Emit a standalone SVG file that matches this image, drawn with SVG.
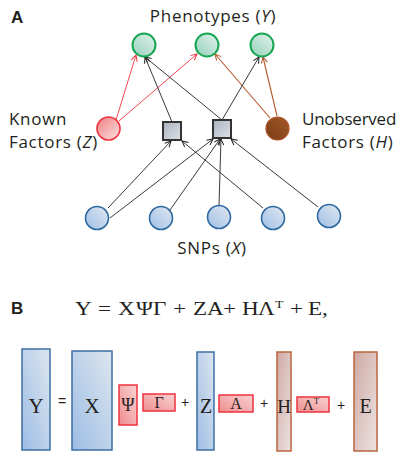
<svg xmlns="http://www.w3.org/2000/svg" width="400" height="456" viewBox="0 0 400 456">
<defs>
<linearGradient id="gGreen" x1="0" y1="1" x2="1" y2="0"><stop offset="0" stop-color="#95d1bb"/><stop offset="1" stop-color="#e2f2ec"/></linearGradient>
<linearGradient id="gRed" x1="0" y1="0" x2="1" y2="1"><stop offset="0" stop-color="#f07c80"/><stop offset="1" stop-color="#fde3e3"/></linearGradient>
<linearGradient id="gBrown" x1="0" y1="1" x2="1" y2="0"><stop offset="0" stop-color="#7a3c14"/><stop offset="1" stop-color="#a3582a"/></linearGradient>
<linearGradient id="gGray" x1="0" y1="0" x2="1" y2="1"><stop offset="0" stop-color="#aab2bd"/><stop offset="1" stop-color="#dde2e8"/></linearGradient>
<linearGradient id="gBlue" x1="0" y1="1" x2="1" y2="0"><stop offset="0" stop-color="#9fc0e6"/><stop offset="1" stop-color="#dfe7ef"/></linearGradient>
<linearGradient id="gRect" x1="0" y1="1" x2="1" y2="0"><stop offset="0" stop-color="#9dbde4"/><stop offset="1" stop-color="#dde6ef"/></linearGradient>
<linearGradient id="gPink" x1="0" y1="1" x2="1" y2="0"><stop offset="0" stop-color="#ee8d8f"/><stop offset="1" stop-color="#f9d2d2"/></linearGradient>
<linearGradient id="gTan" x1="0" y1="0" x2="1" y2="1"><stop offset="0" stop-color="#cfa9a2"/><stop offset="1" stop-color="#ece3e3"/></linearGradient>
<marker id="aK" markerWidth="8" markerHeight="8" refX="7" refY="4" orient="auto" markerUnits="userSpaceOnUse"><path d="M1,1 L7,4 L1,7" fill="none" stroke="#222" stroke-width="1"/></marker>
<marker id="aR" markerWidth="8" markerHeight="8" refX="7" refY="4" orient="auto" markerUnits="userSpaceOnUse"><path d="M1,1 L7,4 L1,7" fill="none" stroke="#ee3340" stroke-width="1"/></marker>
<marker id="aB" markerWidth="8" markerHeight="8" refX="7" refY="4" orient="auto" markerUnits="userSpaceOnUse"><path d="M1,1 L7,4 L1,7" fill="none" stroke="#b5562a" stroke-width="1"/></marker>
</defs>
<style>
.lbl{font-family:"Open Sans","Noto Sans","DejaVu Sans",sans-serif;font-size:17px;letter-spacing:0.7px;fill:#231f20}
.bold{font-family:"Liberation Sans",Arial,sans-serif;font-weight:bold;font-size:17px;fill:#231f20}
.math{font-family:"Liberation Serif","Times New Roman",serif;fill:#231f20}
.op{font-family:"Liberation Sans",Arial,sans-serif;font-size:14px;fill:#231f20}
.green{fill:url(#gGreen);stroke:#16a653;stroke-width:2}
.red{fill:url(#gRed);stroke:#ef3340;stroke-width:1.6}
.brown{fill:url(#gBrown);stroke:#b0562a;stroke-width:1.2}
.sq{fill:url(#gGray);stroke:#333;stroke-width:2}
.snp{fill:url(#gBlue);stroke:#2f68a0;stroke-width:1.6}
.ek{stroke:#222;stroke-width:0.9;fill:none;marker-end:url(#aK)}
.er{stroke:#ee3340;stroke-width:0.9;fill:none;marker-end:url(#aR)}
.eb{stroke:#b5562a;stroke-width:1.1;fill:none;marker-end:url(#aB)}
.mb{fill:url(#gRect);stroke:#3d6fa3;stroke-width:1.5}
.mr{fill:url(#gPink);stroke:#ee3340;stroke-width:1.5}
.mt{fill:url(#gTan);stroke:#b8653c;stroke-width:1.5}
</style>
<text class="bold" x="11" y="23">A</text>
<text class="lbl" x="213" y="22" text-anchor="middle">Phenotypes (<tspan font-style="italic">Y</tspan>)</text>
<text class="lbl" x="9" y="125">Known</text>
<text class="lbl" x="9" y="148">Factors (<tspan font-style="italic">Z</tspan>)</text>
<text class="lbl" x="302" y="125" textLength="95" lengthAdjust="spacing">Unobserved</text>
<text class="lbl" x="302" y="148">Factors (<tspan font-style="italic">H</tspan>)</text>
<text class="lbl" x="212" y="254" text-anchor="middle">SNPs (<tspan font-style="italic">X</tspan>)</text>
<g id="connectors">
<line class="er" x1="116" y1="120" x2="136" y2="55"/>
<line class="er" x1="119" y1="121" x2="197" y2="54"/>
<line class="eb" x1="270" y1="118" x2="215" y2="54"/>
<line class="eb" x1="277" y1="116" x2="263" y2="57"/>
<line class="ek" x1="172" y1="122" x2="145" y2="57"/>
<line class="ek" x1="222" y1="120" x2="145" y2="57"/>
<line class="ek" x1="222" y1="120" x2="259" y2="57"/>
<line class="ek" x1="108" y1="208" x2="171" y2="141"/>
<line class="ek" x1="110" y1="218" x2="213" y2="139"/>
<line class="ek" x1="170" y1="210" x2="220" y2="139"/>
<line class="ek" x1="219" y1="205" x2="221" y2="139"/>
<line class="ek" x1="263" y1="208" x2="182" y2="141"/>
<line class="ek" x1="318" y1="207" x2="231" y2="139"/>
</g>
<g id="y1"><circle class="green" cx="144" cy="45" r="11.5"/></g>
<g id="y2"><circle class="green" cx="207" cy="45" r="11.5"/></g>
<g id="y3"><circle class="green" cx="262" cy="45" r="11.5"/></g>
<g id="z"><circle class="red" cx="108.5" cy="128.5" r="11.5"/></g>
<g id="h"><circle class="brown" cx="277.5" cy="128.5" r="11.5"/></g>
<g id="g1"><rect class="sq" x="163" y="122" width="18" height="18"/></g>
<g id="g2"><rect class="sq" x="213" y="120" width="18" height="18"/></g>
<g id="x1"><circle class="snp" cx="97" cy="218" r="11.5"/></g>
<g id="x2"><circle class="snp" cx="161" cy="218" r="11.5"/></g>
<g id="x3"><circle class="snp" cx="219" cy="217" r="11.5"/></g>
<g id="x4"><circle class="snp" cx="273" cy="218" r="11.5"/></g>
<g id="x5"><circle class="snp" cx="329" cy="216" r="11.5"/></g>
<text class="bold" x="11" y="314">B</text>
<text class="math" transform="translate(0,315) scale(1.25,1)" y="0" font-size="18.5"><tspan x="60">Y</tspan><tspan x="78.4">=</tspan><tspan x="94.4">X</tspan><tspan x="108.8">Ψ</tspan><tspan x="122.4">Γ</tspan><tspan x="138.4">+</tspan><tspan x="154.4">Z</tspan><tspan x="165.6">A</tspan><tspan x="178.4">+</tspan><tspan x="193.6">H</tspan><tspan x="206.4">Λ</tspan><tspan x="220" font-size="11" dy="-7">T</tspan><tspan x="232" dy="7">+</tspan><tspan x="246.4">E,</tspan></text>
<g id="mY"><rect class="mb" x="22" y="349" width="28" height="101"/><text class="math" x="36" y="413" font-size="21" text-anchor="middle">Y</text></g>
<text class="op" x="62" y="406" text-anchor="middle">=</text>
<g id="mX"><rect class="mb" x="72" y="351" width="40" height="99"/><text class="math" x="92" y="413" font-size="21" text-anchor="middle">X</text></g>
<g id="mPsi"><rect class="mr" x="119" y="385" width="18" height="40"/><text class="math" x="128" y="411" font-size="18" text-anchor="middle">Ψ</text></g>
<g id="mGamma"><rect class="mr" x="143" y="394" width="32" height="17"/><text class="math" x="159" y="408" font-size="16" text-anchor="middle">Γ</text></g>
<text class="op" x="185" y="407" text-anchor="middle">+</text>
<g id="mZ"><rect class="mb" x="197" y="352" width="17" height="98"/><text class="math" x="206" y="413" font-size="20" text-anchor="middle">Z</text></g>
<g id="mA"><rect class="mr" x="219" y="395" width="34" height="17"/><text class="math" x="236" y="409" font-size="16" text-anchor="middle">A</text></g>
<text class="op" x="264" y="408" text-anchor="middle">+</text>
<g id="mH"><rect class="mt" x="277" y="352" width="14" height="99"/><text class="math" x="284" y="413" font-size="19" text-anchor="middle">H</text></g>
<g id="mL"><rect class="mr" x="297" y="397" width="32" height="15"/><text class="math" x="311" y="410" font-size="15" text-anchor="middle">Λ<tspan font-size="9" dy="-6">T</tspan></text></g>
<text class="op" x="341" y="410" text-anchor="middle">+</text>
<g id="mE"><rect class="mt" x="354" y="352" width="23" height="99"/><text class="math" x="365.5" y="413" font-size="20" text-anchor="middle">E</text></g>
</svg>
